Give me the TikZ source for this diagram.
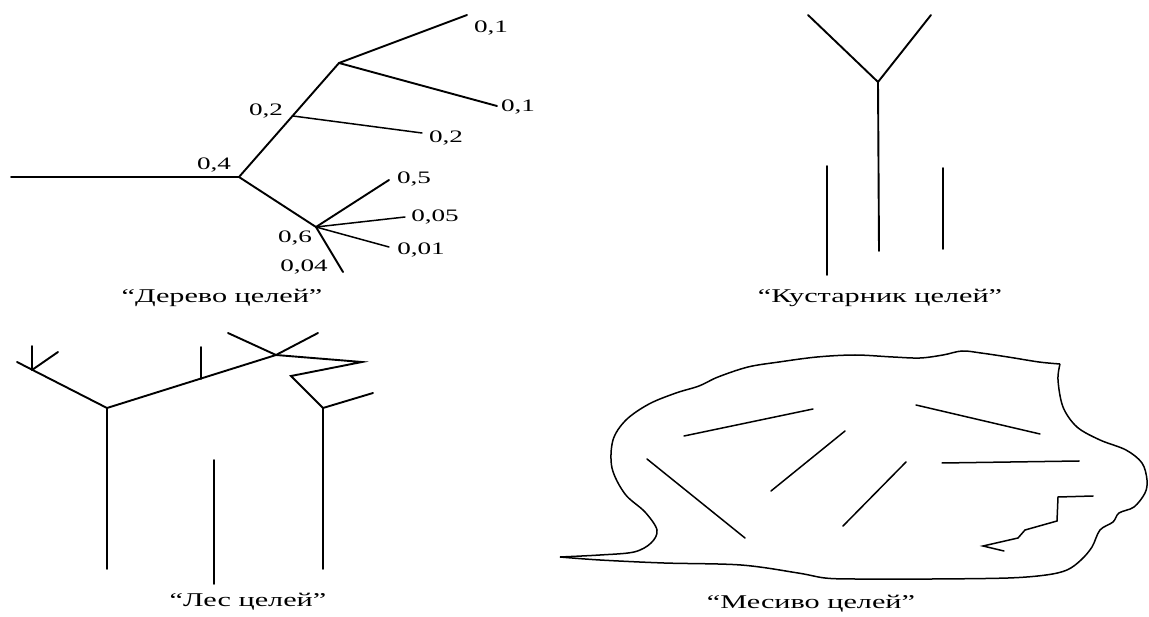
\documentclass[tikz,border=0pt]{standalone}
\usepackage{fontspec}
\setmainfont[FakeStretch=1.55]{Liberation Serif}
\usepackage{tikz}
\usetikzlibrary{positioning}
\tikzstyle{branch} = [line width=1.9pt, line cap=round]
\tikzstyle{twig} = [line width=1.5pt, line cap=round]
\tikzstyle{weight} = [font=\fontsize{17.5}{20}\selectfont, inner sep=0pt]
\tikzstyle{caption} = [font=\fontsize{19.5}{22}\selectfont, inner sep=0pt]
\tikzstyle{outline} = [line width=1.5pt, line join=round]

\begin{document}
\begin{tikzpicture}[x=1pt, y=-1pt]
\useasboundingbox (0,0) rectangle (1149,617);

% Дерево целей
\coordinate (root) at (11,177);
\coordinate (ta) at (239,177);
\coordinate (tb) at (293,116);
\coordinate (tc) at (339,63);
\coordinate (td) at (316,227);
\coordinate (e1) at (467,15);
\coordinate (e2) at (497,106);
\coordinate (e3) at (422,133);
\coordinate (e4) at (389,180);
\coordinate (e5) at (405,217);
\coordinate (e6) at (389,247);
\coordinate (e7) at (343,272);
\draw [branch] (root) -- (ta) -- (tc);
\draw [branch] (tc) -- (e1);
\draw [branch] (tc) -- (e2);
\draw [twig] (tb) -- (e3);
\draw [branch] (ta) -- (td);
\draw [branch] (td) -- (e4);
\draw [twig] (td) -- (e5);
\draw [twig] (td) -- (e6);
\draw [branch] (td) -- (e7);
\node (wa) [weight] at (214,165) {0,4};
\node (wb) [weight] at (266,111) {0,2};
\node (wd) [weight] at (295,238) {0,6};
\node (w1) [weight] at (491,28) {0,1};
\node (w2) [weight] at (518,107) {0,1};
\node (w3) [weight] at (446,138) {0,2};
\node (w4) [weight] at (414,179) {0,5};
\node (w5) [weight] at (435,217) {0,05};
\node (w6) [weight] at (421,250) {0,01};
\node (w7) [weight] at (304,267) {0,04};
\node (treecap) [caption] at (222,298) {“Дерево целей”};

% Кустарник целей
\coordinate (bfork) at (878,82);
\coordinate (bl) at (808,15);
\coordinate (br) at (931,15);
\coordinate (bstem) at (879,251);
\draw [branch] (bl) -- (bfork) -- (br);
\draw [branch] (bfork) -- (bstem);
\draw [branch] (827,166) -- (827,275);
\draw [branch] (943,168) -- (943,249);
\node (bushcap) [caption] at (880,298) {“Кустарник целей”};

% Лес целей
\coordinate (fl) at (107,408);
\coordinate (flk) at (32,370);
\coordinate (fm) at (201,379);
\coordinate (fx) at (276,355);
\coordinate (fz1) at (362,362);
\coordinate (fz2) at (291,376);
\coordinate (fr) at (323,408);
\draw [branch] (107,569) -- (fl) -- (17,362);
\draw [branch] (flk) -- (32,346);
\draw [branch] (flk) -- (58,352);
\draw [branch] (fl) -- (fx);
\draw [branch] (fm) -- (201,347);
\draw [branch] (228,333) -- (fx) -- (318,333);
\draw [branch, line join=miter] (fx) -- (fz1) -- (fz2) -- (fr) -- (323,569);
\draw [branch] (fr) -- (373,393);
\draw [branch] (214,460) -- (214,584);
\node (forestcap) [caption] at (248,602) {“Лес целей”};

% Месиво целей
\coordinate (tip) at (560,557);
\coordinate (hook) at (1060,364);
\draw [outline] plot [smooth, tension=0.55] coordinates {(tip) (600,555) (634,552) (651,543) (657,530) (645,512) (625,494) (612,468) (613,440) (626,420) (649,404) (676,393) (699,386) (718,377) (748,367) (779,362) (817,357) (855,355) (893,357) (920,358) (943,355) (962,351) (981,353) (1008,357) (1039,362) (hook)};
\draw [outline] plot [smooth, tension=0.55] coordinates {(hook) (1058,380) (1063,407) (1077,427) (1100,440) (1126,450) (1142,463) (1147,480) (1145,493) (1134,507) (1119,513) (1113,522) (1100,530) (1092,547) (1081,560) (1067,570) (1046,575) (1008,578) (932,579) (855,579) (825,578) (798,573) (741,565) (664,563) (600,560) (tip)};
\draw [twig] (684,436) -- (813,409);
\draw [twig] (916,405) -- (1040,434);
\draw [twig] (647,459) -- (745,538);
\draw [twig] (845,431) -- (771,491);
\draw [twig] (906,462) -- (843,526);
\draw [twig] (942,463) -- (1079,461);
\draw [twig, line join=miter] (1093,496) -- (1058,497) -- (1057,521) -- (1025,530) -- (1018,538) -- (983,546) -- (1004,551);
\node (messcap) [caption] at (811,604) {“Месиво целей”};
\end{tikzpicture}
\end{document}
